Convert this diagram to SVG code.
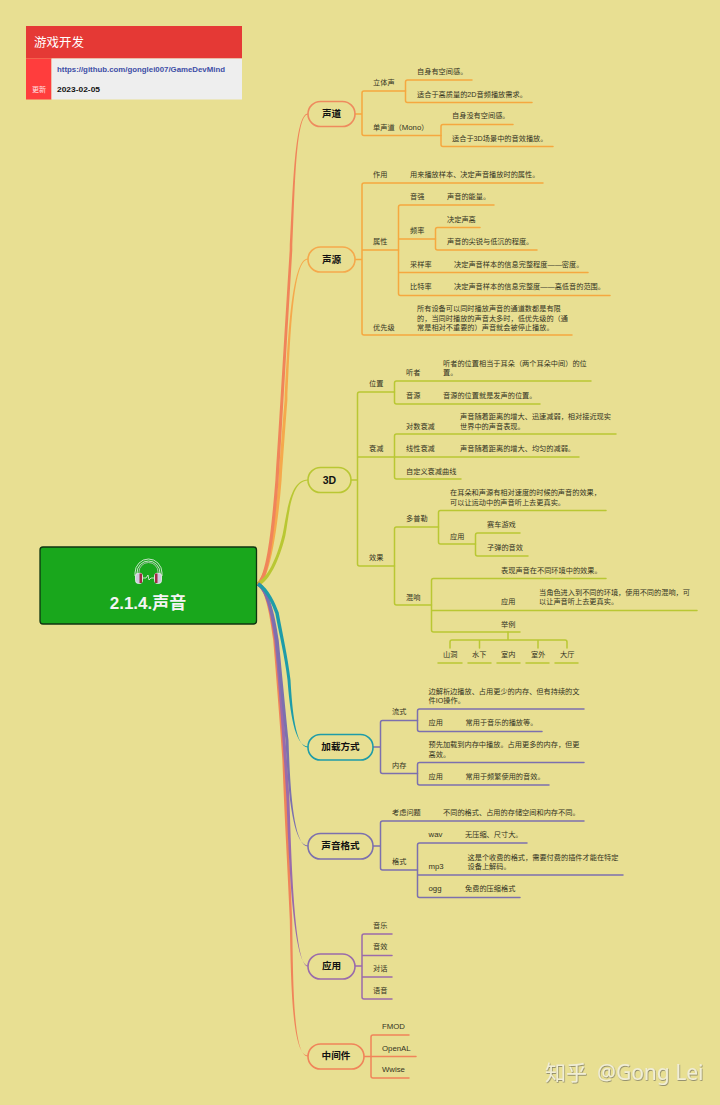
<svg xmlns="http://www.w3.org/2000/svg" width="720" height="1105" viewBox="0 0 720 1105">
<style>
text{font-family:"Liberation Sans","Noto Sans CJK SC",sans-serif;font-size:7.2px;fill:#33331f}
.cn{font-family:"Noto Sans CJK SC","Liberation Sans",sans-serif}
.l{font-size:7.800px}
.n text{font-family:"Noto Sans CJK SC",sans-serif;font-size:9.600px;font-weight:700;fill:#111;text-anchor:middle}
.n rect{fill:#e8df92;stroke-width:1.600}
.o,.g,.p,.v,.r{fill:none;stroke-linecap:round;stroke-width:1.500}
.o{stroke:#f5a83f}.g{stroke:#b9c733}.p{stroke:#7c70ae}.v{stroke:#9a6bab}.r{stroke:#f0845a}
</style>
<defs><filter id="ws" x="-5%" y="-20%" width="110%" height="140%"><feDropShadow dx="0.6" dy="0.8" stdDeviation="0.5" flood-color="#555" flood-opacity="0.7"/></filter></defs>
<rect width="720" height="1105" fill="#e8df92"/>

<g id="card">
<rect x="26" y="26" width="216" height="32.500" fill="#e53935"/>
<rect x="26" y="58.500" width="25.500" height="41" fill="#ff3d3d"/>
<rect x="51.500" y="58.500" width="190.500" height="41" fill="#eeeeee"/>
<text x="34" y="47" class="cn" style="font-size:12.500px;fill:#fff">游戏开发</text>
<text x="32" y="92" class="cn" style="font-size:7px;fill:#ffe0e0">更新</text>
<text x="57" y="72" textLength="168" lengthAdjust="spacingAndGlyphs" style="font-weight:700;fill:#3d4da6">https://github.com/gonglei007/GameDevMind</text>
<text x="57" y="92" textLength="43" lengthAdjust="spacingAndGlyphs" style="font-weight:700;fill:#111">2023-02-05</text>
</g>

<g id="links">
<path fill="#f5a94c" d="M256.500 583C266.400 577 274.400 530 278.400 480C281.500 440 282.500 425 284.600 400C287.800 340 291.400 258.500 308 258.500L308 259.500C292.600 259.500 290.200 340 287.400 400C285.500 425 284.500 440 281.600 480C277.600 530 269.600 579 259.500 585Z"/>
<path fill="#f0845a" d="M256.500 583C266.500 577 271.400 530 275.400 480C279.500 420 284.600 330 289.700 250C292.900 190 294.500 113.500 308 113.500L308 114.500C295.500 114.500 295.100 190 292.300 250C287.400 330 282.600 420 278.600 480C274.600 530 269.600 579 259.500 585Z"/>
<path fill="#b9c733" d="M257 582.500C267 578.500 276.600 559.500 282.600 534.500C286.800 514.500 289.400 479.500 308 479.500L308 480.500C290.600 480.500 289.200 515.500 285.400 535.500C279.400 560.500 269 581.500 259 585.500Z"/>
<path fill="#f0845a" d="M257 585.500C265 589.500 269.200 610 273.200 640C277.300 690 280.400 730 282.400 760C284.500 820 287.800 870 289.800 920C290.900 990 292.400 1055.500 308 1055.500L308 1056.500C293.600 1056.500 293.100 990 292.200 920C290.200 870 287.500 820 285.600 760C283.600 730 280.700 690 276.800 640C272.800 610 267 586.500 259 582.500Z"/>
<path fill="#9a6bab" d="M257 585.500C265 589.500 270.300 610 274.300 640C278.400 680 283.500 750 286.500 800C288.700 860 293.400 965.500 308 965.500L308 966.500C294.600 966.500 291.300 860 289.500 800C286.500 750 281.600 680 277.700 640C273.700 610 267 586.500 259 582.500Z"/>
<path fill="#7c70ae" d="M257 585.500C265 589.500 271.300 610 275.300 640C279.400 680 283.500 720 285.500 740C287.900 790 292.400 845.500 308 845.500L308 846.500C293.600 846.500 290.100 790 288.500 740C286.500 720 282.600 680 278.700 640C274.700 610 267 586.500 259 582.500Z"/>
<path fill="#1e9ca8" d="M257 585.500C267 591.500 272.300 605.500 275.300 613.500C279.400 635.500 284.500 655 287.500 680C289.800 710 294.400 746.500 308 746.500L308 747.500C295.600 747.500 292.200 710 290.500 680C287.500 655 282.600 634.500 278.700 612.500C275.700 604.500 269 588.500 259 582.500Z"/>

<path class="o" d="M355 114H362M362 93V133.500Q362 135.500 364 135.500H441M362 93Q362 91 364 91H405.500"/>
<path class="o" d="M472 80H407.500Q405.500 80 405.500 82V100.500Q405.500 102.500 407.500 102.500H532"/>
<path class="o" d="M513 124.500H443Q441 124.500 441 126.500V144.500Q441 146.500 443 146.500H553"/>
<path class="o" d="M355 259.500H362M543 183H364Q362 183 362 185V333Q362 335 364 335H572M362 250H398.500"/>
<path class="o" d="M494 205H400.500Q398.500 205 398.500 207V293.500Q398.500 295.500 400.500 295.500H610M398.500 239H435.500M398.500 272.500H588"/>
<path class="o" d="M480 227.500H437.500Q435.500 227.500 435.500 229.500V248Q435.500 250 437.500 250H537"/>

<path class="g" d="M351 480H357.500M394.500 392H359.500Q357.500 392 357.500 394V564Q357.500 566 359.500 566H394.500M357.500 457H579"/>
<path class="g" d="M591 381H396.500Q394.500 381 394.500 383V402Q394.500 404 396.500 404H540"/>
<path class="g" d="M616 434H396.500Q394.500 434 394.500 436V477Q394.500 479 396.500 479H461"/>
<path class="g" d="M438.500 527H396.500Q394.500 527 394.500 529V603Q394.500 605 396.500 605H431.500"/>
<path class="g" d="M606 510.500H440.500Q438.500 510.500 438.500 512.500V542Q438.500 544 440.500 544H475.500"/>
<path class="g" d="M520 533H477.500Q475.500 533 475.500 535V554Q475.500 556 477.500 556H528"/>
<path class="g" d="M606 578.500H433.500Q431.500 578.500 431.500 580.500V630Q431.500 632 433.500 632H520M431.500 610.500H697"/>
<path class="g" d="M508 632V640M450 648V642Q450 640 452 640H565Q567 640 567 642V648M479.500 640V648M538 640V648"/>
<path class="g" d="M438 663H462M468 663H491M497 663H520M526 663H549M555 663H578"/>

<path class="p" d="M373 747H380.500M417.500 720.500H382.500Q380.500 720.500 380.500 722.500V771.500Q380.500 773.500 382.500 773.500H417.500"/>
<path class="p" d="M584 709H419.500Q417.500 709 417.500 711V729.500Q417.500 731.500 419.500 731.500H542"/>
<path class="p" d="M584 762.500H419.500Q417.500 762.500 417.500 764.500V783Q417.500 785 419.500 785H549"/>
<path class="p" d="M373 846H380.500M584 821H382.500Q380.500 821 380.500 823V868Q380.500 870 382.500 870H417.500"/>
<path class="p" d="M527 843H419.500Q417.500 843 417.500 845V895.500Q417.500 897.500 419.500 897.500H520M417.500 875H623"/>

<path class="v" d="M355 966H362M392 934H364Q362 934 362 936V997Q362 999 364 999H392M362 955.500H392M362 977H392"/>
<path class="r" d="M364 1056.500H416M409 1035H373Q371 1035 371 1037V1076Q371 1078 373 1078H409"/>
</g>

<g id="root">
<rect x="40" y="547" width="216.500" height="77" rx="3" fill="#19a71c" stroke="#0f3510" stroke-width="1.300"/>
<g fill="none" stroke="#f2f2f2" stroke-width="0.800">
<path d="M135 576V573A13.500 14 0 0 1 162 573V576"/>
<path d="M137 573A11.500 12 0 0 1 160 573"/>
<path d="M139 572A9.500 9.500 0 0 1 158 572" stroke="#c8c8c8"/>
<path d="M143 578H146L148 575L149 580L151 578H154"/>
</g>
<rect x="135.500" y="573" width="7" height="10.500" rx="3" fill="#cfcbe0" stroke="#f2f2f2" stroke-width="0.800"/>
<rect x="154.500" y="573" width="7" height="10.500" rx="3" fill="#cfcbe0" stroke="#f2f2f2" stroke-width="0.800"/>
<rect x="139.500" y="573.500" width="2.500" height="9.500" fill="#a32a45"/>
<rect x="155" y="573.500" width="2.500" height="9.500" fill="#a32a45"/>
<text x="148" y="609" text-anchor="middle" style="font-size:17px;font-weight:700;fill:#f4f4f4">2.1.4.声音</text>
</g>

<g id="n-shengdao" class="n"><rect x="308" y="101.500" width="47" height="25" rx="12.500" stroke="#ee8a5e"/><text x="331.500" y="117">声道</text></g>
<g id="n-shengyuan" class="n"><rect x="308" y="247" width="47" height="25" rx="12.500" stroke="#f5a94c"/><text x="331.500" y="262.500">声源</text></g>
<g id="n-3d" class="n"><rect x="308" y="467.500" width="43" height="25" rx="12.500" stroke="#b9c733"/><text x="329.500" y="483.500" style="font-size:10.500px;font-family:'Liberation Sans'">3D</text></g>
<g id="n-jiazai" class="n"><rect x="308" y="734.500" width="65" height="25.500" rx="12.500" stroke="#1e9ca8"/><text x="340.500" y="750">加载方式</text></g>
<g id="n-geshi" class="n"><rect x="308" y="833.500" width="65" height="25.500" rx="12.500" stroke="#7c70ae"/><text x="340.500" y="849">声音格式</text></g>
<g id="n-yingyong" class="n"><rect x="308" y="954" width="47" height="25" rx="12.500" stroke="#9a6bab"/><text x="331.500" y="969">应用</text></g>
<g id="n-zhongjian" class="n"><rect x="308" y="1044" width="56" height="25" rx="12.500" stroke="#f0845a"/><text x="336" y="1059">中间件</text></g>

<g id="t-shengdao">
<text x="373" y="85">立体声</text>
<text x="417" y="74">自身有空间感。</text>
<text x="417" y="96.500">适合于高质量的2D音频播放需求。</text>
<text x="373" y="129.500">单声道（<tspan class="l">Mono</tspan>）</text>
<text x="452" y="118">自身没有空间感。</text>
<text x="452" y="141">适合于3D场景中的音效播放。</text>
</g>
<g id="t-shengyuan">
<text x="373" y="177">作用</text>
<text x="410" y="177">用来播放样本、决定声音播放时的属性。</text>
<text x="373" y="244">属性</text>
<text x="410" y="199">音强</text>
<text x="447" y="199">声音的能量。</text>
<text x="410" y="232.500">频率</text>
<text x="447" y="221.500">决定声高</text>
<text x="447" y="244">声音的尖锐与低沉的程度。</text>
<text x="410" y="266.500">采样率</text>
<text x="454" y="266.500">决定声音样本的信息完整程度——密度。</text>
<text x="410" y="289">比特率</text>
<text x="454" y="289">决定声音样本的信息完整度——高低音的范围。</text>
<text x="373" y="329.500">优先级</text>
<text x="417" y="311">所有设备可以同时播放声音的通道数都是有限</text>
<text x="417" y="320.500">的，当同时播放的声音太多时，低优先级的（通</text>
<text x="417" y="330">常是相对不重要的）声音就会被停止播放。</text>
</g>
<g id="t-3d">
<text x="369" y="386">位置</text>
<text x="406" y="375">听者</text>
<text x="443" y="365.500">听者的位置相当于耳朵（两个耳朵中间）的位</text>
<text x="443" y="375">置。</text>
<text x="406" y="397.500">音源</text>
<text x="443" y="397.500">音源的位置就是发声的位置。</text>
<text x="369" y="451">衰减</text>
<text x="406" y="428.500">对数衰减</text>
<text x="460" y="419">声音随着距离的增大、迅速减弱，相对接近现实</text>
<text x="460" y="428.500">世界中的声音表现。</text>
<text x="406" y="451">线性衰减</text>
<text x="460" y="451">声音随着距离的增大、均匀的减弱。</text>
<text x="406" y="473.500">自定义衰减曲线</text>
<text x="369" y="560">效果</text>
<text x="406" y="521">多普勒</text>
<text x="450" y="495">在耳朵和声源有相对速度的时候的声音的效果，</text>
<text x="450" y="504.500">可以让运动中的声音听上去更真实。</text>
<text x="450" y="538.500">应用</text>
<text x="487" y="527">赛车游戏</text>
<text x="487" y="550">子弹的音效</text>
<text x="406" y="600">混响</text>
<text x="501" y="572.500">表现声音在不同环境中的效果。</text>
<text x="501" y="604">应用</text>
<text x="539" y="595">当角色进入到不同的环境，使用不同的混响，可</text>
<text x="539" y="604">以让声音听上去更真实。</text>
<text x="501" y="627">举例</text>
<text x="443" y="657">山洞</text>
<text x="472" y="657">水下</text>
<text x="501" y="657">室内</text>
<text x="531" y="657">室外</text>
<text x="560" y="657">大厅</text>
</g>
<g id="t-jiazai">
<text x="392" y="714">流式</text>
<text x="428.500" y="694">边解析边播放、占用更少的内存、但有持续的文</text>
<text x="428.500" y="703">件IO操作。</text>
<text x="428.500" y="725">应用</text>
<text x="465.500" y="725">常用于音乐的播放等。</text>
<text x="392" y="767.500">内存</text>
<text x="428.500" y="747">预先加载到内存中播放。占用更多的内存，但更</text>
<text x="428.500" y="756.500">高效。</text>
<text x="428.500" y="779">应用</text>
<text x="465.500" y="779">常用于频繁使用的音效。</text>
</g>
<g id="t-geshi">
<text x="392" y="815">考虑问题</text>
<text x="443" y="815">不同的格式、占用的存储空间和内存不同。</text>
<text x="392" y="864">格式</text>
<text x="428.500" y="837" class="l">wav</text>
<text x="465" y="837">无压缩、尺寸大。</text>
<text x="428.500" y="869" class="l">mp3</text>
<text x="467.500" y="859.500">这是个收费的格式，需要付费的插件才能在特定</text>
<text x="467.500" y="869">设备上解码。</text>
<text x="428.500" y="891" class="l">ogg</text>
<text x="465" y="891">免费的压缩格式</text>
</g>
<g id="t-yingyong">
<text x="373" y="927.500">音乐</text>
<text x="373" y="949">音效</text>
<text x="373" y="970.500">对话</text>
<text x="373" y="992.500">语音</text>
</g>
<g id="t-zhongjian">
<text x="382" y="1029" class="l">FMOD</text>
<text x="382" y="1050.500" class="l">OpenAL</text>
<text x="382" y="1072" class="l">Wwise</text>
</g>
<text id="watermark" x="545" y="1079.500" filter="url(#ws)" style="font-family:'Noto Sans','Noto Sans CJK SC',sans-serif;font-size:21px;fill:#f1eed6">知乎 <tspan x="597">@Gong Lei</tspan></text>
</svg>
